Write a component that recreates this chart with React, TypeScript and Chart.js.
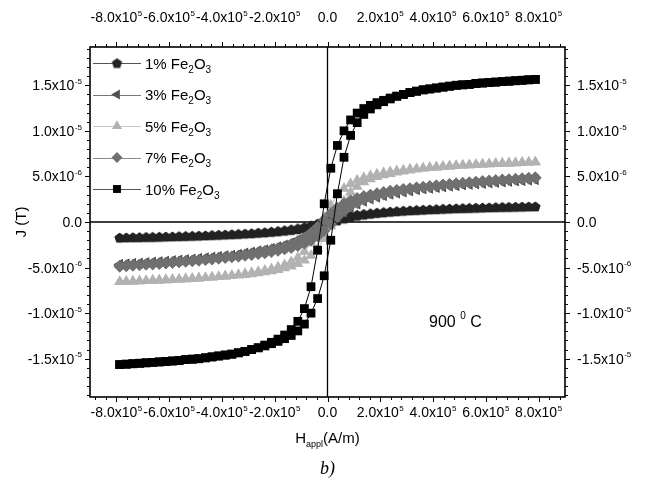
import { useEffect, useRef } from 'react';
import { Chart, registerables } from 'chart.js';
import { drawPoint } from 'chart.js/helpers';

Chart.register(...registerables);

// Applied field grid (units of 1e5 A/m)
const H_GRID = [
  -7.875, -7.625, -7.375, -7.125, -6.875, -6.625, -6.375, -6.125, -5.875, -5.625, -5.375, -5.125, -4.875, -4.625, -4.375, -4.125,
  -3.875, -3.625, -3.375, -3.125, -2.875, -2.625, -2.375, -2.125, -1.875, -1.625, -1.375, -1.125, -0.875, -0.625, -0.375, -0.125,
  0.125, 0.375, 0.625, 0.875, 1.125, 1.375, 1.625, 1.875, 2.125, 2.375, 2.625, 2.875, 3.125, 3.375, 3.625, 3.875,
  4.125, 4.375, 4.625, 4.875, 5.125, 5.375, 5.625, 5.875, 6.125, 6.375, 6.625, 6.875, 7.125, 7.375, 7.625, 7.875,
];

// J values (units of 1e-6 T), "down" = branch coming from +saturation, "up" = branch from -saturation; both listed in H_GRID order
const J1_DOWN = [
  -1.71, -1.7, -1.68, -1.67, -1.65, -1.64, -1.62, -1.6, -1.58, -1.56, -1.54, -1.52, -1.5, -1.47, -1.44, -1.41,
  -1.38, -1.35, -1.31, -1.27, -1.23, -1.16, -1.1, -1.03, -0.96, -0.88, -0.78, -0.66, -0.52, -0.35, -0.15, 0.05,
  0.25, 0.44, 0.58, 0.71, 0.82, 0.91, 0.98, 1.05, 1.11, 1.16, 1.2, 1.24, 1.28, 1.31, 1.35, 1.38,
  1.41, 1.44, 1.47, 1.5, 1.52, 1.54, 1.56, 1.58, 1.6, 1.62, 1.64, 1.65, 1.67, 1.68, 1.7, 1.71,
];
const J1_UP = [
  -1.71, -1.7, -1.68, -1.67, -1.65, -1.64, -1.62, -1.6, -1.58, -1.56, -1.54, -1.52, -1.5, -1.47, -1.44, -1.41,
  -1.38, -1.35, -1.31, -1.28, -1.24, -1.2, -1.16, -1.11, -1.05, -0.98, -0.91, -0.82, -0.71, -0.58, -0.44, -0.25,
  -0.05, 0.15, 0.35, 0.52, 0.66, 0.78, 0.88, 0.96, 1.03, 1.1, 1.16, 1.23, 1.27, 1.31, 1.35, 1.38,
  1.41, 1.44, 1.47, 1.5, 1.52, 1.54, 1.56, 1.58, 1.6, 1.62, 1.64, 1.65, 1.67, 1.68, 1.7, 1.71,
];
const J3_DOWN = [
  -4.65, -4.6, -4.55, -4.5, -4.45, -4.4, -4.35, -4.3, -4.24, -4.18, -4.12, -4.06, -4.0, -3.93, -3.86, -3.78,
  -3.7, -3.62, -3.53, -3.38, -3.27, -3.15, -3.02, -2.87, -2.7, -2.5, -2.25, -1.95, -1.55, -1.05, -0.5, 0.2,
  0.85, 1.35, 1.78, 2.13, 2.4, 2.6, 2.78, 2.93, 3.07, 3.19, 3.3, 3.4, 3.5, 3.57, 3.65, 3.72,
  3.79, 3.86, 3.93, 4.0, 4.06, 4.12, 4.18, 4.24, 4.3, 4.35, 4.4, 4.45, 4.5, 4.55, 4.6, 4.65,
];
const J3_UP = [
  -4.65, -4.6, -4.55, -4.5, -4.45, -4.4, -4.35, -4.3, -4.24, -4.18, -4.12, -4.06, -4.0, -3.93, -3.86, -3.79,
  -3.72, -3.65, -3.57, -3.5, -3.4, -3.3, -3.19, -3.07, -2.93, -2.78, -2.6, -2.4, -2.13, -1.78, -1.35, -0.85,
  -0.2, 0.5, 1.05, 1.55, 1.95, 2.25, 2.5, 2.7, 2.87, 3.02, 3.15, 3.27, 3.38, 3.53, 3.62, 3.7,
  3.78, 3.86, 3.93, 4.0, 4.06, 4.12, 4.18, 4.24, 4.3, 4.35, 4.4, 4.45, 4.5, 4.55, 4.6, 4.65,
];
const J5_DOWN = [
  -6.57, -6.54, -6.51, -6.48, -6.45, -6.42, -6.39, -6.36, -6.33, -6.29, -6.25, -6.21, -6.17, -6.12, -6.07, -6.01,
  -5.95, -5.88, -5.81, -5.67, -5.56, -5.44, -5.3, -5.14, -4.95, -4.7, -4.37, -3.9, -3.25, -2.3, -1.1, 0.45,
  1.85, 2.95, 3.68, 4.2, 4.58, 4.86, 5.06, 5.24, 5.38, 5.5, 5.6, 5.7, 5.79, 5.81, 5.88, 5.95,
  6.01, 6.07, 6.12, 6.17, 6.21, 6.25, 6.29, 6.33, 6.36, 6.39, 6.42, 6.45, 6.48, 6.51, 6.54, 6.57,
];
const J5_UP = [
  -6.57, -6.54, -6.51, -6.48, -6.45, -6.42, -6.39, -6.36, -6.33, -6.29, -6.25, -6.21, -6.17, -6.12, -6.07, -6.01,
  -5.95, -5.88, -5.81, -5.79, -5.7, -5.6, -5.5, -5.38, -5.24, -5.06, -4.86, -4.58, -4.2, -3.68, -2.95, -1.85,
  -0.45, 1.1, 2.3, 3.25, 3.9, 4.37, 4.7, 4.95, 5.14, 5.3, 5.44, 5.56, 5.67, 5.81, 5.88, 5.95,
  6.01, 6.07, 6.12, 6.17, 6.21, 6.25, 6.29, 6.33, 6.36, 6.39, 6.42, 6.45, 6.48, 6.51, 6.54, 6.57,
];
const J7_DOWN = [
  -4.85, -4.8, -4.75, -4.7, -4.65, -4.6, -4.55, -4.5, -4.44, -4.38, -4.32, -4.26, -4.2, -4.13, -4.06, -3.98,
  -3.9, -3.82, -3.73, -3.6, -3.48, -3.35, -3.2, -3.05, -2.9, -2.7, -2.45, -2.12, -1.75, -1.2, -0.55, 0.25,
  0.95, 1.55, 2.0, 2.35, 2.62, 2.82, 2.98, 3.12, 3.27, 3.4, 3.5, 3.6, 3.68, 3.75, 3.83, 3.9,
  3.98, 4.06, 4.13, 4.2, 4.26, 4.32, 4.38, 4.44, 4.5, 4.55, 4.6, 4.65, 4.7, 4.75, 4.8, 4.85,
];
const J7_UP = [
  -4.85, -4.8, -4.75, -4.7, -4.65, -4.6, -4.55, -4.5, -4.44, -4.38, -4.32, -4.26, -4.2, -4.13, -4.06, -3.98,
  -3.9, -3.83, -3.75, -3.68, -3.6, -3.5, -3.4, -3.27, -3.12, -2.98, -2.82, -2.62, -2.35, -2.0, -1.55, -0.95,
  -0.25, 0.55, 1.2, 1.75, 2.12, 2.45, 2.7, 2.9, 3.05, 3.2, 3.35, 3.48, 3.6, 3.73, 3.82, 3.9,
  3.98, 4.06, 4.13, 4.2, 4.26, 4.32, 4.38, 4.44, 4.5, 4.55, 4.6, 4.65, 4.7, 4.75, 4.8, 4.85,
];
const J10_DOWN = [
  -15.65, -15.6, -15.55, -15.5, -15.45, -15.4, -15.35, -15.3, -15.25, -15.2, -15.1, -15.05, -15.0, -14.9, -14.8, -14.7,
  -14.6, -14.5, -14.35, -14.2, -14.0, -13.8, -13.5, -13.2, -12.85, -12.4, -11.8, -10.9, -9.5, -7.1, -3.1, 2.0,
  5.9, 8.4, 10.0, 11.2, 11.95, 12.45, 12.8, 13.1, 13.35, 13.6, 13.8, 14.0, 14.2, 14.35, 14.5, 14.6,
  14.7, 14.8, 14.9, 15.0, 15.05, 15.1, 15.2, 15.25, 15.3, 15.35, 15.4, 15.45, 15.5, 15.55, 15.6, 15.65,
];
const J10_UP = [
  -15.65, -15.6, -15.55, -15.5, -15.45, -15.4, -15.35, -15.3, -15.25, -15.2, -15.1, -15.05, -15.0, -14.9, -14.8, -14.7,
  -14.6, -14.5, -14.35, -14.2, -14.0, -13.8, -13.6, -13.35, -13.1, -12.8, -12.45, -11.95, -11.2, -10.0, -8.4, -5.9,
  -2.0, 3.1, 7.1, 9.5, 10.9, 11.8, 12.4, 12.85, 13.2, 13.5, 13.8, 14.0, 14.2, 14.35, 14.5, 14.6,
  14.7, 14.8, 14.9, 15.0, 15.05, 15.1, 15.2, 15.25, 15.3, 15.35, 15.4, 15.45, 15.5, 15.55, 15.6, 15.65,
];

const SERIES_PCT = ['1%', '3%', '5%', '7%', '10%'];

// Axis ticks
const X_TICKS = [-800000, -600000, -400000, -200000, 0, 200000, 400000, 600000, 800000];
const X_TICK_MANT = ['-8.0', '-6.0', '-4.0', '-2.0', '0.0', '2.0', '4.0', '6.0', '8.0'];
const X_TICK_EXP = ['5', '5', '5', '5', '', '5', '5', '5', '5'];
const Y_TICKS = [-1.5e-5, -1.0e-5, -5e-6, 0, 5e-6, 1.0e-5, 1.5e-5];
const Y_TICK_MANT = ['-1.5', '-1.0', '-5.0', '0.0', '5.0', '1.0', '1.5'];
const Y_TICK_EXP = ['-5', '-5', '-6', '', '-6', '-5', '-5'];

const W = 659;
const HGT = 489;
const SANS = '"Liberation Sans", Arial, Helvetica, sans-serif';

function makePentagon(r: number, color: string) {
  const s = Math.ceil(r * 2) + 2;
  const c = document.createElement('canvas');
  c.width = s;
  c.height = s;
  const g = c.getContext('2d')!;
  g.beginPath();
  for (let i = 0; i < 5; i++) {
    const a = -Math.PI / 2 + (i * 2 * Math.PI) / 5;
    const px = s / 2 + r * Math.cos(a);
    const py = s / 2 + r * Math.sin(a) + r * 0.1;
    if (i === 0) g.moveTo(px, py);
    else g.lineTo(px, py);
  }
  g.closePath();
  g.fillStyle = color;
  g.fill();
  return c;
}

function loopPoints(down: number[], up: number[]) {
  const pts: { x: number; y: number }[] = [];
  for (let i = H_GRID.length - 1; i >= 0; i--) {
    if (down[i] !== undefined) pts.push({ x: H_GRID[i] * 1e5, y: down[i] * 1e-6 });
  }
  for (let i = 0; i < H_GRID.length; i++) {
    if (up[i] !== undefined) pts.push({ x: H_GRID[i] * 1e5, y: up[i] * 1e-6 });
  }
  return pts;
}

function drawSci(
  ctx: CanvasRenderingContext2D,
  mant: string,
  exp: string,
  x: number,
  y: number,
  align: 'left' | 'right' | 'center',
  size: number
) {
  const main = exp ? mant + 'x10' : mant;
  const mainFont = `${size}px ${SANS}`;
  const supFont = `${Math.round(size * 0.6)}px ${SANS}`;
  ctx.font = mainFont;
  const w1 = ctx.measureText(main).width;
  ctx.font = supFont;
  const w2 = exp ? ctx.measureText(exp).width + 0.5 : 0;
  const total = w1 + w2;
  const x0 = align === 'left' ? x : align === 'right' ? x - total : x - total / 2;
  ctx.textAlign = 'left';
  ctx.textBaseline = 'alphabetic';
  ctx.font = mainFont;
  ctx.fillText(main, x0, y);
  if (exp) {
    ctx.font = supFont;
    ctx.fillText(exp, x0 + w1 + 0.5, y - size * 0.45);
  }
}

export default function App() {
  const ref = useRef<HTMLCanvasElement | null>(null);

  useEffect(() => {
    const canvas = ref.current;
    if (!canvas) return;

    const pent = makePentagon(5.3, '#222222');
    const pentLegend = makePentagon(5.4, '#222222');

    const styles = [
      { color: '#222222', line: '#555555', pointStyle: pent as any, radius: 5.5, rotation: 0, legendStyle: pentLegend as any, legendRadius: 5.5 },
      { color: '#505050', line: '#777777', pointStyle: 'triangle', radius: 6.2, rotation: -90, legendStyle: 'triangle', legendRadius: 5.8 },
      { color: '#b2b2b2', line: '#c8c8c8', pointStyle: 'triangle', radius: 6.4, rotation: 0, legendStyle: 'triangle', legendRadius: 5.8 },
      { color: '#707070', line: '#8c8c8c', pointStyle: 'rectRot', radius: 6.2, rotation: 0, legendStyle: 'rectRot', legendRadius: 5.5 },
      { color: '#000000', line: '#555555', pointStyle: 'rect', radius: 6.2, rotation: 0, legendStyle: 'rect', legendRadius: 5.6 },
    ];
    const branches = [
      [J1_DOWN, J1_UP],
      [J3_DOWN, J3_UP],
      [J5_DOWN, J5_UP],
      [J7_DOWN, J7_UP],
      [J10_DOWN, J10_UP],
    ];

    const datasets = SERIES_PCT.map((pct, i) => ({
      label: pct + ' Fe2O3',
      data: loopPoints(branches[i][0], branches[i][1]),
      showLine: true,
      borderColor: i === 4 ? '#000000' : styles[i].color,
      borderWidth: 1,
      backgroundColor: styles[i].color,
      pointBackgroundColor: styles[i].color,
      pointBorderWidth: 0,
      pointStyle: styles[i].pointStyle,
      pointRadius: styles[i].radius,
      pointRotation: styles[i].rotation,
      order: SERIES_PCT.length - i,
    }));

    const zeroLines = {
      id: 'zeroLines',
      beforeDatasetsDraw(chart: any) {
        const { ctx, chartArea: a, scales } = chart;
        const x0 = scales.x.getPixelForValue(0);
        const y0 = scales.y.getPixelForValue(0);
        ctx.save();
        ctx.strokeStyle = '#000';
        ctx.lineWidth = 1.3;
        ctx.beginPath();
        ctx.moveTo(x0, a.top);
        ctx.lineTo(x0, a.bottom);
        ctx.moveTo(a.left, y0);
        ctx.lineTo(a.right, y0);
        ctx.stroke();
        ctx.restore();
      },
    };

    const decor = {
      id: 'decor',
      afterDraw(chart: any) {
        const { ctx, chartArea: a, scales } = chart;
        const xs = scales.x;
        const ys = scales.y;
        ctx.save();
        ctx.fillStyle = '#000';
        ctx.strokeStyle = '#000';

        // frame
        ctx.lineWidth = 1.6;
        ctx.strokeRect(a.left, a.top, a.right - a.left, a.bottom - a.top);

        // ticks
        ctx.lineWidth = 1;
        ctx.beginPath();
        for (let v = -880000; v <= 880000 + 1; v += 40000) {
          const major = Math.abs(v % 200000) < 1;
          const len = major ? 5 : 3;
          const px = Math.round(xs.getPixelForValue(v)) + 0.5;
          ctx.moveTo(px, a.bottom);
          ctx.lineTo(px, a.bottom + len);
          ctx.moveTo(px, a.top);
          ctx.lineTo(px, a.top - len);
        }
        for (let k = -19; k <= 19; k++) {
          const v = k * 1e-6;
          const major = k % 5 === 0;
          const len = major ? 5 : 3;
          const py = Math.round(ys.getPixelForValue(v)) + 0.5;
          ctx.moveTo(a.left, py);
          ctx.lineTo(a.left - len, py);
          ctx.moveTo(a.right, py);
          ctx.lineTo(a.right + len, py);
        }
        ctx.stroke();

        // tick labels
        const TS = 14;
        X_TICKS.forEach((v, i) => {
          const px = xs.getPixelForValue(v);
          drawSci(ctx, X_TICK_MANT[i], X_TICK_EXP[i], px, a.bottom + 20, 'center', TS);
          drawSci(ctx, X_TICK_MANT[i], X_TICK_EXP[i], px, a.top - 25, 'center', TS);
        });
        Y_TICKS.forEach((v, i) => {
          const py = ys.getPixelForValue(v);
          drawSci(ctx, Y_TICK_MANT[i], Y_TICK_EXP[i], a.left - 8, py + 5, 'right', TS);
          drawSci(ctx, Y_TICK_MANT[i], Y_TICK_EXP[i], a.right + 12, py + 5, 'left', TS);
        });

        // y title
        ctx.save();
        ctx.translate(22, (a.top + a.bottom) / 2);
        ctx.rotate(-Math.PI / 2);
        ctx.font = `15px ${SANS}`;
        ctx.textAlign = 'center';
        ctx.textBaseline = 'middle';
        ctx.fillText('J (T)', 0, 0);
        ctx.restore();

        // x title: H_appl(A/m)
        {
          const big = `15px ${SANS}`;
          const small = `9px ${SANS}`;
          ctx.font = big;
          const wH = ctx.measureText('H').width;
          const wR = ctx.measureText('(A/m)').width;
          ctx.font = small;
          const wS = ctx.measureText('appl').width;
          const cx = xs.getPixelForValue(0);
          let x = cx - (wH + wS + wR) / 2;
          const by = a.bottom + 46;
          ctx.textAlign = 'left';
          ctx.textBaseline = 'alphabetic';
          ctx.font = big;
          ctx.fillText('H', x, by);
          x += wH;
          ctx.font = small;
          ctx.fillText('appl', x, by + 4);
          x += wS;
          ctx.font = big;
          ctx.fillText('(A/m)', x, by);
        }

        // caption b)
        ctx.font = `italic 18px "Liberation Serif", "Times New Roman", serif`;
        ctx.textAlign = 'center';
        ctx.textBaseline = 'alphabetic';
        ctx.fillText('b)', xs.getPixelForValue(0), a.bottom + 77);

        // annotation 900 °C
        {
          const big = `16px ${SANS}`;
          const small = `10px ${SANS}`;
          ctx.textAlign = 'left';
          let x = 429;
          const by = 327;
          ctx.font = big;
          ctx.fillText('900 ', x, by);
          x += ctx.measureText('900 ').width;
          ctx.font = small;
          ctx.fillText('0', x, by - 8);
          x += ctx.measureText('0').width;
          ctx.font = big;
          ctx.fillText(' C', x, by);
        }

        // legend
        const rowY = [63, 94.5, 126, 157.5, 189];
        SERIES_PCT.forEach((pct, i) => {
          const y = rowY[i];
          const st = styles[i];
          ctx.save();
          ctx.strokeStyle = st.line;
          ctx.lineWidth = 1;
          ctx.beginPath();
          ctx.moveTo(93, Math.round(y) + 0.5);
          ctx.lineTo(141, Math.round(y) + 0.5);
          ctx.stroke();
          ctx.fillStyle = st.color;
          drawPoint(ctx, { pointStyle: st.legendStyle, rotation: st.rotation, radius: st.legendRadius, borderWidth: 0 } as any, 117, y);
          ctx.restore();

          const big = `15px ${SANS}`;
          const small = `10px ${SANS}`;
          let x = 145;
          const by = y + 5.5;
          ctx.fillStyle = '#000';
          ctx.textAlign = 'left';
          ctx.font = big;
          ctx.fillText(pct + ' Fe', x, by);
          x += ctx.measureText(pct + ' Fe').width;
          ctx.font = small;
          ctx.fillText('2', x, by + 4);
          x += ctx.measureText('2').width;
          ctx.font = big;
          ctx.fillText('O', x, by);
          x += ctx.measureText('O').width;
          ctx.font = small;
          ctx.fillText('3', x, by + 4);
        });

        ctx.restore();
      },
    };

    const chart = new Chart(canvas, {
      type: 'scatter',
      data: { datasets: datasets as any },
      options: {
        animation: false,
        responsive: false,
        maintainAspectRatio: false,
        events: [],
        layout: { padding: { left: 90, top: 47, right: W - 565, bottom: HGT - 397 } },
        scales: {
          x: { type: 'linear', min: -900000, max: 900000, display: false },
          y: { type: 'linear', min: -1.92e-5, max: 1.92e-5, display: false },
        },
        plugins: {
          legend: { display: false },
          tooltip: { enabled: false },
          title: { display: false },
        },
      },
      plugins: [zeroLines, decor],
    });

    return () => chart.destroy();
  }, []);

  return (
    <div style={{ position: 'absolute', left: 0, top: 0, width: W, height: HGT, background: '#fff' }}>
      <canvas ref={ref} width={W} height={HGT} style={{ display: 'block', width: W, height: HGT }} />
    </div>
  );
}
